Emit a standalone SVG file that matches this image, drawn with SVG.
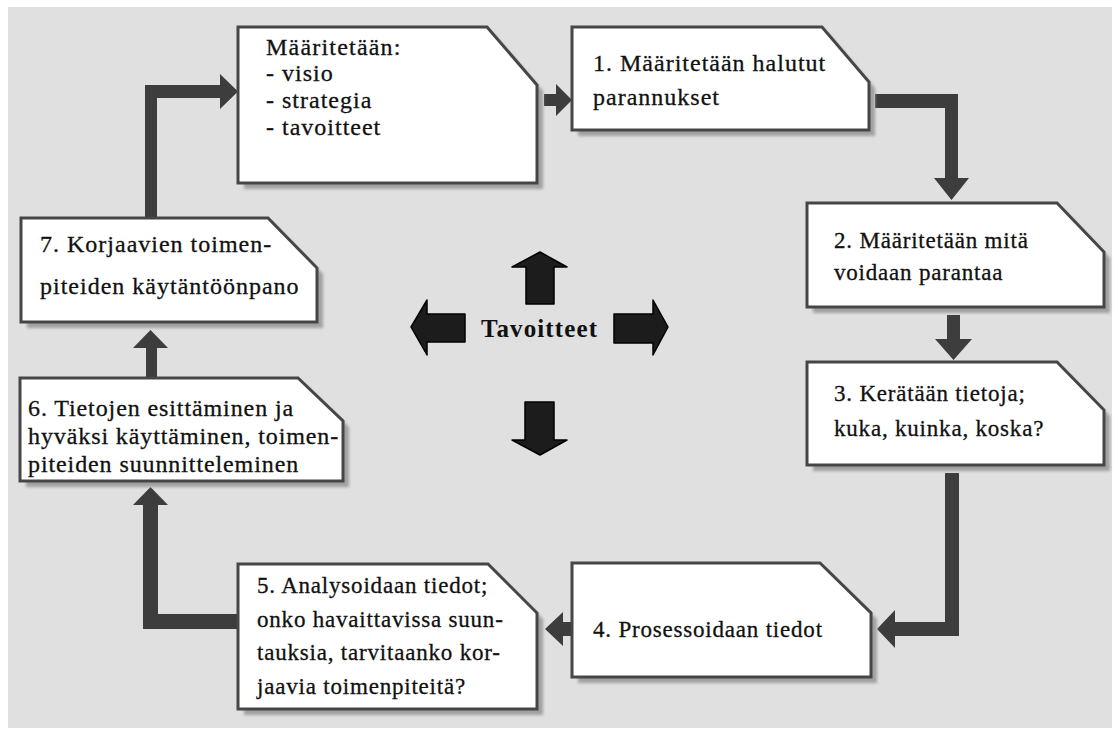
<svg xmlns="http://www.w3.org/2000/svg" width="1118" height="735" viewBox="0 0 1118 735">
<style>
.box{fill:#ffffff;stroke:#464646;stroke-width:3;stroke-linejoin:miter}
.shadow{fill:#a0a0a0;filter:url(#blur)}
.t{font-family:"Liberation Serif","Times New Roman",serif;font-size:23px;fill:#111;stroke:#111;stroke-width:0.3px;letter-spacing:0.8px}
.big{font-size:24px;letter-spacing:1px}
.conn{fill:#3d3d3d}
.goal{fill:#1c1c1c;stroke:#000;stroke-width:1.5;stroke-linejoin:round}
.gt{font-family:"Liberation Serif","Times New Roman",serif;font-size:25px;font-weight:bold;fill:#111}
</style>
<defs>
<filter id="blur" x="-10%" y="-10%" width="120%" height="120%"><feGaussianBlur stdDeviation="1.5"/></filter>
</defs>
<rect x="8" y="7" width="1104" height="721" fill="#e0e0e0"/>

<g id="connectors">
<path class="conn" d="M145,217 L145,85 L220,85 L220,74 L238,91.5 L220,109 L220,98 L157,98 L157,217 Z"/>
<path class="conn" d="M544,94 L556,94 L556,84 L572,100 L556,116 L556,106 L544,106 Z"/>
<path class="conn" d="M875,94 L958,94 L958,178 L969,178 L951.5,200 L934,178 L945,178 L945,108 L875,108 Z"/>
<path class="conn" d="M947,315 L960,315 L960,339 L972,339 L953.5,360 L935,339 L947,339 Z"/>
<path class="conn" d="M945,473 L959,473 L959,636 L895,636 L895,648 L877,629 L895,610 L895,622 L945,622 Z"/>
<path class="conn" d="M572,622 L563,622 L563,612 L545,629 L563,646 L563,636 L572,636 Z"/>
<path class="conn" d="M238,614 L158,614 L158,505 L168,505 L150.5,487 L133,505 L143,505 L143,629 L238,629 Z"/>
<path class="conn" d="M146,378 L146,348 L133,348 L150.5,330 L168,348 L157,348 L157,378 Z"/>
</g>

<g id="node0">
<path class="shadow" transform="translate(6,6)" d="M238,27 L487,27 L537,85 L537,183 L238,183 Z"/>
<path class="box" d="M238,27 L487,27 L537,85 L537,183 L238,183 Z"/>
<text class="t big" x="266" y="55" style="letter-spacing:1.2px">Määritetään:</text>
<text class="t big" x="266" y="81">- visio</text>
<text class="t big" x="266" y="108">- strategia</text>
<text class="t big" x="266" y="135">- tavoitteet</text>
</g>

<g id="node1">
<path class="shadow" transform="translate(6,6)" d="M572,27 L822,27 L869,82 L869,130 L572,130 Z"/>
<path class="box" d="M572,27 L822,27 L869,82 L869,130 L572,130 Z"/>
<text class="t big" x="593" y="71">1. Määritetään halutut</text>
<text class="t big" x="593" y="105">parannukset</text>
</g>

<g id="node2">
<path class="shadow" transform="translate(6,6)" d="M807,203 L1057,203 L1104,252 L1104,307 L807,307 Z"/>
<path class="box" d="M807,203 L1057,203 L1104,252 L1104,307 L807,307 Z"/>
<text class="t" x="834" y="248">2. Määritetään mitä</text>
<text class="t" x="834" y="280">voidaan parantaa</text>
</g>

<g id="node3">
<path class="shadow" transform="translate(6,6)" d="M807,362 L1057,362 L1104,410 L1104,465 L807,465 Z"/>
<path class="box" d="M807,362 L1057,362 L1104,410 L1104,465 L807,465 Z"/>
<text class="t" x="834" y="401">3. Kerätään tietoja;</text>
<text class="t" x="834" y="436">kuka, kuinka, koska?</text>
</g>

<g id="node4">
<path class="shadow" transform="translate(6,6)" d="M572,563 L820,563 L871,613 L871,677 L572,677 Z"/>
<path class="box" d="M572,563 L820,563 L871,613 L871,677 L572,677 Z"/>
<text class="t" x="593" y="637">4. Prosessoidaan tiedot</text>
</g>

<g id="node5">
<path class="shadow" transform="translate(6,6)" d="M238,564 L488,564 L537,613 L537,709 L238,709 Z"/>
<path class="box" d="M238,564 L488,564 L537,613 L537,709 L238,709 Z"/>
<text class="t" x="257" y="593">5. Analysoidaan tiedot;</text>
<text class="t" x="257" y="627">onko havaittavissa suun-</text>
<text class="t" x="257" y="660">tauksia, tarvitaanko kor-</text>
<text class="t" x="257" y="694">jaavia toimenpiteitä?</text>
</g>

<g id="node6">
<path class="shadow" transform="translate(6,6)" d="M20,378 L298,378 L343,421 L343,481 L20,481 Z"/>
<path class="box" d="M20,378 L298,378 L343,421 L343,481 L20,481 Z"/>
<text class="t big" x="28" y="416" style="letter-spacing:0.9px">6. Tietojen esittäminen ja</text>
<text class="t big" x="28" y="444" style="letter-spacing:0.9px">hyväksi käyttäminen, toimen-</text>
<text class="t big" x="28" y="472" style="letter-spacing:0.9px">piteiden suunnitteleminen</text>
</g>

<g id="node7">
<path class="shadow" transform="translate(6,6)" d="M21,218 L268,218 L317,268 L317,322 L21,322 Z"/>
<path class="box" d="M21,218 L268,218 L317,268 L317,322 L21,322 Z"/>
<text class="t big" x="40" y="252">7. Korjaavien toimen-</text>
<text class="t big" x="40" y="294">piteiden käytäntöönpano</text>
</g>

<g id="goals">
<path class="goal" d="M526,304 L526,267 L512,267 L540,252 L567,267 L554,267 L554,304 Z"/>
<path class="goal" d="M465,314 L427,314 L427,300 L411,327 L427,355 L427,342 L465,342 Z"/>
<path class="goal" d="M614,314 L653,314 L653,300 L668,327 L653,355 L653,343 L614,343 Z"/>
<path class="goal" d="M525,402 L554,402 L554,440 L567,440 L540,455 L512,440 L525,440 Z"/>
<text class="gt" x="481" y="337" textLength="116" lengthAdjust="spacing">Tavoitteet</text>
</g>
</svg>
